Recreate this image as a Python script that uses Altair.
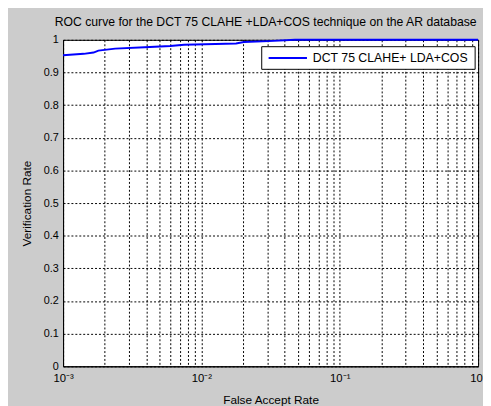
import altair as alt
import pandas as pd

# ROC curve
far = [0.001, 0.00141, 0.00166, 0.0018, 0.00238, 0.00389, 0.00595, 0.00749,
       0.0178, 0.0203, 0.0306, 0.0475, 1.0]
vr = [0.953, 0.957, 0.961, 0.967, 0.973, 0.977, 0.981, 0.985,
      0.989, 0.993, 0.996, 1.0, 1.0]
series_name = "DCT 75 CLAHE+ LDA+COS"

x_ticks = [m * 10.0 ** e for e in (-3, -2, -1) for m in range(1, 10)] + [1.0]
y_ticks = [i / 10 for i in range(11)]

df = pd.DataFrame({"far": far, "vr": vr, "series": [series_name] * len(far)})
leg_df = pd.DataFrame({"series": [series_name]})

FONT = "Liberation Sans"

x_label_expr = ("datum.value == 0.001 ? '10⁻³' : datum.value == 0.01 ? '10⁻²' : "
                "datum.value == 0.1 ? '10⁻¹' : datum.value == 1 ? '10⁰' : ''")

curve = alt.Chart(df).mark_line(strokeWidth=2, clip=False, color="#0000ff").encode(
    x=alt.X("far:Q",
            scale=alt.Scale(type="log", domain=[0.001, 1], nice=False),
            axis=alt.Axis(values=x_ticks, labelExpr=x_label_expr, title="False Accept Rate",
                          grid=True, gridDash=[2, 2], gridColor="#000000", gridOpacity=1,
                          ticks=False, labelFlush=False, labelOverlap=False,
                          labelPadding=6, titlePadding=11, labelFontSize=11.5)),
    y=alt.Y("vr:Q",
            scale=alt.Scale(domain=[0, 1], nice=False, zero=False),
            axis=alt.Axis(values=y_ticks, format=".1~f", title="Verification Rate",
                          grid=True, gridDash=[2, 2], gridColor="#000000", gridOpacity=1,
                          ticks=False, labelPadding=5, titlePadding=10, labelFontSize=11)),
)

# legend box drawn as a small layer
leg_box = alt.Chart(leg_df).mark_rect(fill="#ffffff", stroke="#000000", strokeWidth=1).encode(
    x=alt.value(202), x2=alt.value(419), y=alt.value(7), y2=alt.value(30)
)
leg_line = alt.Chart(leg_df).mark_rule(color="#0000ff", strokeWidth=2).encode(
    x=alt.value(209), x2=alt.value(248), y=alt.value(18.5)
)
leg_text = alt.Chart(leg_df).mark_text(align="left", baseline="middle", font=FONT,
                                       fontSize=12.5, color="#000000").encode(
    x=alt.value(254), y=alt.value(19), text="series:N"
)

chart = alt.layer(curve, leg_box, leg_line, leg_text).properties(
    width=422,
    height=332,
    title=alt.TitleParams("ROC curve for the DCT 75 CLAHE +LDA+COS technique on the AR database",
                          fontSize=12.4, fontWeight="normal", font=FONT, color="#000000",
                          anchor="middle", offset=6, dx=-5),
    background="#cccccc",
    padding={"left": 56, "top": 29, "right": 5, "bottom": 37},
    autosize=alt.AutoSizeParams(type="none"),
).configure_view(
    fill="#ffffff", stroke="#000000", strokeWidth=1
).configure_axis(
    domainColor="#000000", labelColor="#000000", titleColor="#000000",
    labelFont=FONT, titleFont=FONT, titleFontWeight="normal", titleFontSize=12,
)

chart.save("out.html", embed_options={"renderer": "svg", "actions": False})
